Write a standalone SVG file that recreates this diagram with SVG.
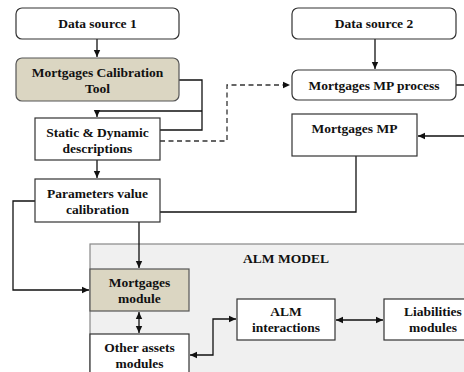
<svg xmlns="http://www.w3.org/2000/svg" width="464" height="372" viewBox="0 0 464 372">
<defs>
<marker id="ah" markerWidth="8" markerHeight="8" refX="7" refY="4" orient="auto-start-reverse" markerUnits="userSpaceOnUse">
<path d="M0,0.8 L7,4 L0,7.2 Z" fill="#111"/>
</marker>
</defs>
<style>
.box{fill:#fff;stroke:#333;stroke-width:1.2}
.tan{fill:#dbd6c2;stroke:#555;stroke-width:1.2}
.t{font-family:"Liberation Serif","Times New Roman",serif;font-weight:bold;font-size:13.5px;fill:#111;text-anchor:middle}
.c{fill:none;stroke:#111;stroke-width:1.3}
.d{fill:none;stroke:#333;stroke-width:1.3;stroke-dasharray:5,3.5}
</style>
<rect width="464" height="372" fill="#fff"/>
<g id="alm-model">
<rect x="90" y="244" width="380" height="140" fill="#f0f0f0" stroke="#888" stroke-width="1.2"/>
<text class="t" x="286" y="263">ALM MODEL</text>
</g>
<g id="connectors">
<path class="c" d="M97,39 V57" marker-end="url(#ah)"/>
<path class="c" d="M179,80 H202 V130 H160"/>
<path class="c" d="M202,111 H97 V117" marker-end="url(#ah)"/>
<path class="d" d="M160,141 H227 V85 H290" marker-end="url(#ah)"/>
<path class="c" d="M97,160 V178" marker-end="url(#ah)"/>
<path class="c" d="M375,39 V69" marker-end="url(#ah)"/>
<path class="c" d="M456,85 H467 V136 H418" marker-end="url(#ah)"/>
<path class="c" d="M356,156 V212 H139 V268" marker-end="url(#ah)"/>
<path class="c" d="M35,201 H13 V290 H89" marker-end="url(#ah)"/>
<path class="c" d="M139,312 V333" marker-start="url(#ah)" marker-end="url(#ah)"/>
<path class="c" d="M190,355 H213 V319 H236" marker-start="url(#ah)" marker-end="url(#ah)"/>
<path class="c" d="M336,320 H383" marker-start="url(#ah)" marker-end="url(#ah)"/>
</g>
<g id="data-source-1">
<rect class="box" x="16" y="8" width="163" height="31" rx="6"/>
<text class="t" x="97.5" y="28">Data source 1</text>
</g>
<g id="mortgages-calibration-tool">
<rect class="tan" x="16" y="58" width="163" height="43" rx="6"/>
<text class="t" x="97.5" y="77">Mortgages Calibration</text>
<text class="t" x="97.5" y="93">Tool</text>
</g>
<g id="static-dynamic">
<rect class="box" x="35" y="118" width="125" height="42"/>
<text class="t" x="97.5" y="137">Static &amp; Dynamic</text>
<text class="t" x="97.5" y="153">descriptions</text>
</g>
<g id="parameters-value-calibration">
<rect class="box" x="35" y="179" width="125" height="43"/>
<text class="t" x="97.5" y="198">Parameters value</text>
<text class="t" x="97.5" y="214">calibration</text>
</g>
<g id="data-source-2">
<rect class="box" x="292" y="8" width="164" height="31" rx="6"/>
<text class="t" x="374" y="28">Data source 2</text>
</g>
<g id="mortgages-mp-process">
<rect class="box" x="292" y="70" width="164" height="30" rx="6"/>
<text class="t" x="374" y="90">Mortgages MP process</text>
</g>
<g id="mortgages-mp">
<rect class="box" x="292" y="114" width="125" height="42"/>
<text class="t" x="354.5" y="133">Mortgages MP</text>
</g>
<g id="mortgages-module">
<rect class="tan" x="90" y="269" width="99" height="42"/>
<text class="t" x="139.5" y="287">Mortgages</text>
<text class="t" x="139.5" y="303">module</text>
</g>
<g id="other-assets-modules">
<rect class="box" x="90" y="334" width="99" height="50"/>
<text class="t" x="139.5" y="352">Other assets</text>
<text class="t" x="139.5" y="368">modules</text>
</g>
<g id="alm-interactions">
<rect class="box" x="237" y="299" width="98" height="41"/>
<text class="t" x="286" y="316">ALM</text>
<text class="t" x="286" y="332">interactions</text>
</g>
<g id="liabilities-modules">
<rect class="box" x="384" y="299" width="98" height="41"/>
<text class="t" x="433" y="316">Liabilities</text>
<text class="t" x="433" y="332">modules</text>
</g>
</svg>
